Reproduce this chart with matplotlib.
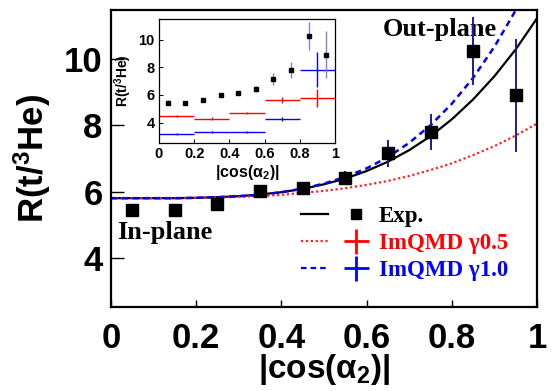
import matplotlib
matplotlib.use("Agg")
import matplotlib.pyplot as plt
from matplotlib.lines import Line2D
from matplotlib.legend_handler import HandlerTuple

plt.rcParams['font.family'] = ['Liberation Sans', 'DejaVu Sans']
plt.rcParams['font.weight'] = 'bold'
plt.rcParams['axes.labelweight'] = 'bold'
plt.rcParams['mathtext.fontset'] = 'custom'
plt.rcParams['mathtext.rm'] = 'Liberation Sans:bold'
plt.rcParams['mathtext.it'] = 'Liberation Sans:bold'
plt.rcParams['mathtext.bf'] = 'Liberation Sans:bold'

# measured ratio vs |cos(alpha2)|
exp_x = [0.05, 0.15, 0.25, 0.35, 0.45, 0.55, 0.65, 0.75, 0.85, 0.95]
exp_y = [5.45, 5.45, 5.62, 6.02, 6.12, 6.42, 7.15, 7.80, 10.24, 8.90]
exp_err = [0.15, 0.10, 0.12, 0.12, 0.15, 0.20, 0.40, 0.55, 1.03, 1.70]

# fitted curves
curve_x = [0.0, 0.05, 0.1, 0.15, 0.2, 0.25, 0.3, 0.35, 0.4, 0.45, 0.5,
           0.55, 0.6, 0.65, 0.7, 0.75, 0.8, 0.85, 0.9, 0.95, 1.0]
exp_fit = [5.80, 5.80, 5.80, 5.80, 5.81, 5.83, 5.86, 5.91, 5.98, 6.08, 6.22,
           6.39, 6.62, 6.90, 7.25, 7.67, 8.18, 8.78, 9.48, 10.29, 11.23]
g05_fit = [5.80, 5.80, 5.80, 5.80, 5.81, 5.82, 5.84, 5.86, 5.90, 5.96, 6.02,
           6.10, 6.20, 6.32, 6.47, 6.65, 6.85, 7.10, 7.37, 7.69, 8.05]
g10_fit = [5.80, 5.80, 5.80, 5.80, 5.81, 5.83, 5.86, 5.90, 5.98, 6.09, 6.24,
           6.44, 6.70, 7.04, 7.47, 8.00, 8.65, 9.43, 10.37, 11.47, 12.76]

# ImQMD bins shown in the inset
sim_x = [0.1, 0.3, 0.5, 0.7, 0.9]
sim_xerr = [0.1, 0.1, 0.1, 0.1, 0.1]
g05_y = [4.46, 4.29, 4.70, 5.65, 5.78]
g05_err = [0.08, 0.08, 0.10, 0.20, 0.65]
g10_y = [3.18, 3.30, 3.30, 4.29, 7.83]
g10_err = [0.05, 0.06, 0.06, 0.15, 1.27]

xticks = [0, 0.2, 0.4, 0.6, 0.8, 1.0]
xticklabels = ["0", "0.2", "0.4", "0.6", "0.8", "1"]
yticks = [4, 6, 8, 10]

fig = plt.figure(figsize=(5.52, 3.91), dpi=100)
ax = fig.add_axes([0.201, 0.215, 0.772, 0.759])

ax.plot(curve_x, exp_fit, color='black', lw=1.6)
ax.plot(curve_x, g05_fit, color='#ff2020', lw=1.6, ls=(0, (1, 1.2)))
ax.plot(curve_x, g10_fit, color='blue', lw=1.8, ls=(0, (2.5, 1.8)))
ax.errorbar(exp_x, exp_y, yerr=exp_err, fmt='s', color='black', ms=9,
            ecolor='#1a1aa0', elinewidth=1.4, capsize=0, zorder=5)

ax.set_xlim(0, 1)
ax.set_ylim(2.52, 11.47)
ax.set_xticks(xticks)
ax.set_xticklabels(xticklabels)
ax.set_yticks(yticks)
ax.tick_params(axis='both', direction='in', labelsize=25, width=1.0)
ax.tick_params(axis='x', length=5, pad=11)
ax.tick_params(axis='y', length=9.5, pad=6)
for s in ax.spines.values():
    s.set_linewidth(1.6)
ax.set_xlabel("|cos(α$_{2}$)|", fontsize=24, labelpad=-2)
ax.set_ylabel("R(t/$^{3}$He)", fontsize=25, labelpad=8)

serif = dict(family='Liberation Serif', weight='bold')
ax.text(0.772, 0.935, "Out-plane", transform=ax.transAxes, ha='center',
        va='center', fontsize=19, **serif)
ax.text(0.127, 0.25, "In-plane", transform=ax.transAxes, ha='center',
        va='center', fontsize=19, **serif)

h_exp = (Line2D([], [], color='black', lw=1.6),
         Line2D([], [], color='black', marker='s', ls='none', ms=7))
h_05 = (Line2D([], [], color='#ff2020', lw=1.6, ls=(0, (1, 1.2))),
        Line2D([], [], color='red', marker='+', ls='none', ms=18, mew=2))
h_10 = (Line2D([], [], color='blue', lw=1.6, ls=(0, (2.5, 1.8))),
        Line2D([], [], color='blue', marker='+', ls='none', ms=18, mew=2))
leg = ax.legend([h_exp, h_05, h_10], ["Exp.", "ImQMD γ0.5", "ImQMD γ1.0"],
                handler_map={tuple: HandlerTuple(ndivide=None, pad=0.6)},
                loc='upper left', bbox_to_anchor=(0.397, 0.409), frameon=False,
                handlelength=3.0, handletextpad=0.4, labelspacing=0.25,
                prop=dict(family='Liberation Serif', weight='bold', size=16.5))
for t, c in zip(leg.get_texts(), ['black', 'red', 'blue']):
    t.set_color(c)

# inset
ins = fig.add_axes([0.288, 0.634, 0.319, 0.317])
ins.errorbar(exp_x, exp_y, yerr=exp_err, fmt='s', color='black', ms=3.5,
             ecolor='#8080c8', elinewidth=1.0, capsize=0, zorder=5)
ins.errorbar(sim_x, g05_y, xerr=sim_xerr, yerr=g05_err, fmt='none',
             ecolor='red', elinewidth=1.0, capsize=0)
ins.errorbar(sim_x, g10_y, xerr=sim_xerr, yerr=g10_err, fmt='none',
             ecolor='blue', elinewidth=1.0, capsize=0)
ins.set_xlim(0, 1)
ins.set_ylim(2.52, 11.47)
ins.set_xticks(xticks)
ins.set_xticklabels(xticklabels)
ins.set_yticks(yticks)
ins.tick_params(axis='both', direction='in', labelsize=10.5, length=3, width=0.7, pad=3)
for s in ins.spines.values():
    s.set_linewidth(0.9)
ins.set_xlabel("|cos(α$_{2}$)|", fontsize=11.5, labelpad=1)
ins.set_ylabel("R(t/$^{3}$He)", fontsize=10, labelpad=3)

fig.savefig("out.png", dpi=100)
